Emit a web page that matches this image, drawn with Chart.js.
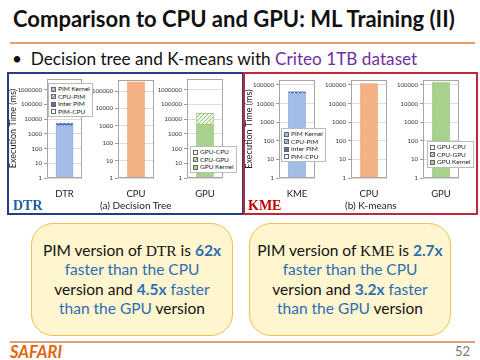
<!DOCTYPE html>
<html>
<head>
<meta charset="utf-8">
<script src="https://cdn.jsdelivr.net/npm/chart.js@4.4.1/dist/chart.umd.min.js"></script>
<style>
  body { margin: 0; width: 480px; height: 360px; overflow: hidden; background: #fff; position: relative; font-family: Lato, 'Open Sans', sans-serif; }
  .abs { position: absolute; }
  canvas { position: absolute; }
  #title { left: 13px; top: 5px; font-size: 22px; font-weight: bold; color: #111; white-space: nowrap; }
  .rule { height: 2px; background: #e4a064; }
  #bullet { left: 12px; top: 48px; font-size: 17.2px; color: #111; white-space: nowrap; }
  #bullet .hl { color: #7030a0; }
  .panel { border: 2px solid; box-sizing: border-box; }
  #panelA { left: 7px; top: 72px; width: 237px; height: 143px; border-color: #203f86; }
  #panelB { left: 243px; top: 72px; width: 235px; height: 143px; border-color: #c0283a; }
  .tag { font-family: 'Liberation Serif', serif; font-weight: bold; font-size: 14px; }
  .cap { font-size: 10px; color: #222; white-space: nowrap; }
  .legend { background: #fff; border: 1px solid #bbb; font-size: 6.5px; line-height: 7.5px; color: #222; padding: 1px 2px; white-space: nowrap; }
  .sw { display: inline-block; width: 5px; height: 5px; margin-right: 2px; vertical-align: -0.5px; box-sizing: border-box; border: 0.5px solid #666; }
  .note { width: 202px; height: 113px; box-sizing: border-box; border: 1.5px solid #f0c050; background: #fff6cf; border-radius: 22px;
          display: flex; align-items: center; justify-content: center; text-align: center; font-size: 15.5px; line-height: 19.5px; color: #111; }
  .note .b { color: #2e6db4; }
  .note .bb { color: #2e6db4; font-weight: bold; }
  .note .m { font-family: 'Liberation Serif', serif; }
  #safari { left: 10px; top: 342px; font-size: 16.5px; font-weight: bold; font-style: italic; color: #e4650f; }
  #pageno { left: 455px; top: 343px; font-size: 13px; color: #777; }
</style>
</head>
<body>
<div id="title" class="abs">Comparison to CPU and GPU: ML Training (II)</div>
<div class="abs rule" style="left:10px; top:42px; width:465px;"></div>
<div id="bullet" class="abs">•&nbsp; Decision tree and K-means with <span class="hl">Criteo 1TB dataset</span></div>

<div id="panelA" class="abs panel"></div>
<div id="panelB" class="abs panel"></div>

<canvas id="c1"></canvas><canvas id="c2"></canvas><canvas id="c3"></canvas>
<canvas id="c4"></canvas><canvas id="c5"></canvas><canvas id="c6"></canvas>

<div id="lg1" class="abs legend"></div>
<div id="lg3" class="abs legend"></div>
<div id="lg4" class="abs legend"></div>
<div id="lg6" class="abs legend"></div>

<div class="abs tag" style="left:13px; top:198px; color:#1f5ea8;">DTR</div>
<div class="abs tag" style="left:248px; top:198px; color:#c00000;">KME</div>
<div class="abs cap" style="left:100px; top:199px;">(a) Decision Tree</div>
<div class="abs cap" style="left:345px; top:199px;">(b) K-means</div>

<div class="abs note" style="left:31px; top:223px;">
  <div>PIM version of <span class="m">DTR</span> is <span class="bb">62x</span><br>
  <span class="b">faster than the CPU</span><br>
  version and <span class="bb">4.5x</span> <span class="b">faster</span><br>
  <span class="b">than the GPU</span> version</div>
</div>
<div class="abs note" style="left:249px; top:223px;">
  <div>PIM version of <span class="m">KME</span> is <span class="bb">2.7x</span><br>
  <span class="b">faster than the CPU</span><br>
  version and <span class="bb">3.2x</span> <span class="b">faster</span><br>
  <span class="b">than the GPU</span> version</div>
</div>

<div class="abs rule" style="left:10px; top:341px; width:465px; background:#d9a27a;"></div>
<div id="safari" class="abs">SAFARI</div>
<div id="pageno" class="abs">52</div>

<script>
// execution times in ms
const pimLabels = ['PIM Kernel', 'CPU-PIM', 'Inter PIM', 'PIM-CPU'];
const gpuLabels = ['GPU Kernel', 'CPU-GPU', 'GPU-CPU'];

const dtrPim = [3500, 30, 1900, 70];
const dtrCpu = [340000];
const dtrGpu = [4700, 20000, 100];

const kmePim = [34000, 500, 9000, 500];
const kmeCpu = [119000];
const kmeGpu = [118000, 3000, 20000];

const logTicks = [1, 10, 100, 1000, 10000, 100000, 1000000];

// colours
const blue = '#a4bde6', blueEdge = '#7d9bd1', darkBlue = '#4a72c0';
const orange = '#f4b183', orangeEdge = '#e8a06e';
const green = '#a9d18e', greenEdge = '#8fbf70';

const PAD_TOP = 6, PAD_RIGHT = 2, X_AXIS_H = 30;

function pattern(bg, fg, kind) {
  const c = document.createElement('canvas');
  c.width = c.height = 4;
  const x = c.getContext('2d');
  x.fillStyle = bg; x.fillRect(0, 0, 4, 4);
  x.fillStyle = fg; x.strokeStyle = fg; x.lineWidth = 1;
  if (kind === 'hatch') { x.beginPath(); x.moveTo(-1, 5); x.lineTo(5, -1); x.stroke(); }
  if (kind === 'dots') { x.fillRect(0, 0, 1, 1); x.fillRect(2, 2, 1, 1); }
  return x.createPattern(c, 'repeat');
}

const pimStyles = [
  { bg: blue, css: blue },
  { bg: pattern('#fff', blueEdge, 'hatch'), css: 'repeating-linear-gradient(135deg,#7d9bd1 0 1px,#fff 1px 2px)' },
  { bg: pattern(darkBlue, '#cfdcf3', 'dots'), css: darkBlue },
  { bg: pattern('#fff', blueEdge, 'dots'), css: 'radial-gradient(#7d9bd1 40%, #fff 41%) 0 0/2px 2px' }
];
const gpuStyles = [
  { bg: green, css: green },
  { bg: pattern('#f2f8ee', greenEdge, 'hatch'), css: 'repeating-linear-gradient(135deg,#8fbf70 0 1px,#fff 1px 2px)' },
  { bg: pattern('#fff', greenEdge, 'dots'), css: 'radial-gradient(#8fbf70 40%, #fff 41%) 0 0/2px 2px' }
];

const plotBox = {
  id: 'plotBox',
  afterDraw(chart) {
    const a = chart.chartArea, ctx = chart.ctx;
    ctx.save();
    ctx.strokeStyle = '#a6a6a6';
    ctx.lineWidth = 1;
    ctx.strokeRect(Math.round(a.left) + 0.5, Math.round(a.top) + 0.5, Math.round(a.right - a.left) - 1, Math.round(a.bottom - a.top) - 1);
    ctx.restore();
  }
};

function makeChart(id, g, category, datasets, yMax, yTitle) {
  const cv = document.getElementById(id);
  cv.width = g.yw + g.w + PAD_RIGHT;
  cv.height = PAD_TOP + g.h + X_AXIS_H;
  cv.style.left = (g.x - g.yw) + 'px';
  cv.style.top = (g.y - PAD_TOP) + 'px';
  return new Chart(cv, {
    type: 'bar',
    data: { labels: [category], datasets },
    options: {
      responsive: false, maintainAspectRatio: false, animation: false, devicePixelRatio: 1,
      layout: { autoPadding: false, padding: { top: PAD_TOP, right: PAD_RIGHT, left: 0, bottom: 0 } },
      plugins: { legend: { display: false }, tooltip: { enabled: false } },
      scales: {
        x: {
          stacked: true,
          grid: { display: false }, border: { display: false },
          ticks: { font: { size: 9.5, family: 'Lato' }, color: '#222', padding: 2, maxRotation: 0 },
          afterFit(axis) { axis.height = X_AXIS_H; }
        },
        y: {
          type: 'logarithmic', stacked: true, min: 1, max: yMax,
          afterBuildTicks(axis) { axis.ticks = logTicks.filter(v => v <= yMax).map(v => ({ value: v })); },
          ticks: { font: { size: 6, family: 'Lato' }, color: '#333', padding: 2, callback: v => String(v) },
          grid: { color: '#dcdcdc', tickLength: 3, tickColor: '#999' },
          border: { display: false },
          title: { display: !!yTitle, text: yTitle || '', font: { size: 9, family: 'Lato' }, color: '#222', padding: { top: 0, bottom: 2 } },
          afterFit(axis) { axis.width = g.yw; }
        }
      }
    },
    plugins: [plotBox]
  });
}

function stackSets(labels, values, styles, edge) {
  return labels.map((lab, i) => ({
    label: lab, data: [values[i]], backgroundColor: styles[i].bg,
    borderColor: edge, borderWidth: 0.6, barThickness: 17
  }));
}

function cpuSet(values) {
  return [{ label: 'CPU', data: values, backgroundColor: orange, borderColor: orangeEdge, borderWidth: 0.6, barThickness: 17 }];
}

function legendHtml(id, labels, styles, order, pos) {
  const el = document.getElementById(id);
  el.innerHTML = order.map(i => '<div><span class="sw" style="background:' + styles[i].css + '"></span>' + labels[i] + '</div>').join('');
  el.style.left = pos[0] + 'px';
  el.style.top = pos[1] + 'px';
}

// (a) Decision tree
makeChart('c1', { x: 47, y: 79, w: 35, h: 99, yw: 39 }, 'DTR', stackSets(pimLabels, dtrPim, pimStyles, blueEdge), 5.4e6, 'Execution Time (ms)');
makeChart('c2', { x: 118, y: 80, w: 36, h: 98, yw: 30 }, 'CPU', cpuSet(dtrCpu), 4.3e5);
makeChart('c3', { x: 187, y: 79, w: 36, h: 99, yw: 30 }, 'GPU', stackSets(gpuLabels, dtrGpu, gpuStyles, greenEdge), 5.4e6);

// (b) K-means
makeChart('c4', { x: 279, y: 80, w: 36, h: 98, yw: 35 }, 'KME', stackSets(pimLabels, kmePim, pimStyles, blueEdge), 1.85e5, 'Execution Time (ms)');
makeChart('c5', { x: 351, y: 80, w: 36, h: 98, yw: 30 }, 'CPU', cpuSet(kmeCpu), 1.85e5);
makeChart('c6', { x: 423, y: 80, w: 36, h: 98, yw: 30 }, 'GPU', stackSets(gpuLabels, kmeGpu, gpuStyles, greenEdge), 1.85e5);

legendHtml('lg1', pimLabels, pimStyles, [0, 1, 2, 3], [48, 83]);
legendHtml('lg3', gpuLabels, gpuStyles, [2, 1, 0], [190, 146]);
legendHtml('lg4', pimLabels, pimStyles, [0, 1, 2, 3], [281, 128]);
legendHtml('lg6', gpuLabels, gpuStyles, [2, 1, 0], [427, 141]);
</script>
</body>
</html>
